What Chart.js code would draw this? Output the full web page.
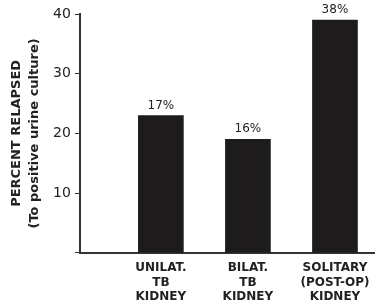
<!DOCTYPE html>
<html>
<head>
<meta charset="utf-8">
<script src="https://cdn.jsdelivr.net/npm/chart.js@4.4.0/dist/chart.umd.min.js"></script>
<style>
  html, body { margin: 0; padding: 0; background: #fff; }
  #wrap { width: 375px; height: 302px; }
</style>
</head>
<body>
<div id="wrap"><canvas id="grafik" width="375" height="302"></canvas></div>
<script>
// Data
const kategori = [
    ['UNILAT.', 'TB', 'KIDNEY'],
    ['BILAT.', 'TB', 'KIDNEY'],
    ['SOLITARY', '(POST-OP)', 'KIDNEY']
];
const nilai = [23, 19, 39];
const labelPersen = ['17%', '16%', '38%'];
const yTicks = [10, 20, 30, 40];

const warnaBar = '#1d1b1c';
const font = "'DejaVu Sans', 'Liberation Sans', sans-serif";

// Label persen di atas bar
const labelPlugin = {
    id: 'labelPersen',
    afterDatasetsDraw(chart) {
        const ctx = chart.ctx;
        const meta = chart.getDatasetMeta(0);
        ctx.save();
        ctx.fillStyle = '#222';
        ctx.font = '12px ' + font;
        ctx.textAlign = 'center';
        ctx.textBaseline = 'bottom';
        meta.data.forEach((bar, i) => {
            ctx.fillText(labelPersen[i], bar.x, bar.y - 4);
        });
        ctx.restore();
    }
};

const ctx = document.getElementById('grafik').getContext('2d');
new Chart(ctx, {
    type: 'bar',
    data: {
        datasets: [{
            data: nilai.map((v, i) => ({ x: i, y: v })),
            backgroundColor: warnaBar,
            borderWidth: 0,
            barThickness: 45
        }]
    },
    options: {
        responsive: false,
        animation: false,
        layout: { padding: { top: 14, right: 0, left: 8, bottom: -2 } },
        plugins: {
            legend: { display: false },
            tooltip: { enabled: false }
        },
        scales: {
            x: {
                type: 'linear',
                offset: false,
                min: -0.93,
                max: 2.46,
                afterBuildTicks: function(scale) {
                    scale.ticks = kategori.map((k, i) => ({ value: i }));
                },
                grid: { display: false, offset: false },
                border: { display: true, color: '#333', width: 2 },
                ticks: {
                    autoSkip: false,
                    maxRotation: 0,
                    padding: 0,
                    color: '#222',
                    font: { family: font, size: 12, weight: 'bold', lineHeight: 1.2 },
                    callback: function(value) {
                        return kategori[value] || '';
                    }
                }
            },
            y: {
                min: 0,
                max: 40,
                afterBuildTicks: function(scale) {
                    scale.ticks = [0].concat(yTicks).map(v => ({ value: v }));
                },
                grid: { display: true, drawOnChartArea: false, drawTicks: true, tickLength: 5, color: '#333' },
                border: { display: true, color: '#333', width: 2 },
                ticks: {
                    padding: 4,
                    color: '#222',
                    font: { family: font, size: 14 },
                    callback: function(value) {
                        return value === 0 ? '' : value;
                    }
                },
                title: {
                    display: true,
                    text: ['PERCENT RELAPSED', '(To positive urine culture)'],
                    color: '#222',
                    font: { family: font, size: 13, weight: 'bold', lineHeight: 1.35 },
                    padding: { top: 0, bottom: 6 }
                }
            }
        }
    },
    plugins: [labelPlugin]
});
</script>
</body>
</html>
